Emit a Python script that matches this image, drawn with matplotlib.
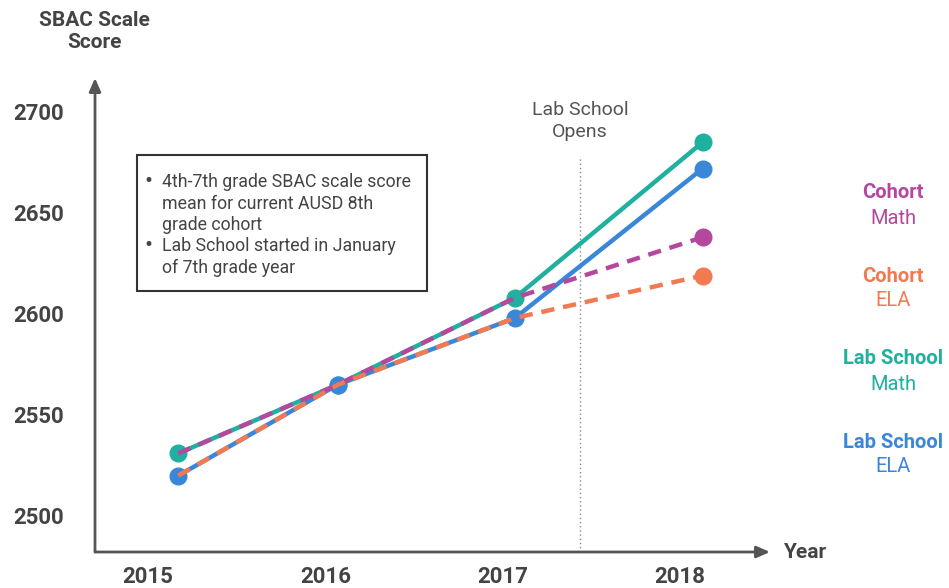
import matplotlib
matplotlib.use("Agg")
import matplotlib.pyplot as plt
from matplotlib.patches import FancyBboxPatch

plt.rcParams['font.family'] = ['Roboto', 'DejaVu Sans']

years = [2015, 2016, 2017, 2018]
year_labels = ['2015', '2016', '2017', '2018']
# horizontal placement of the measurements (in fractional year units, as drawn)
point_x = [2015.17, 2016.07, 2017.07, 2018.13]
lab_math = [2532, 2566, 2609, 2686]
lab_ela = [2521, 2566, 2599, 2673]
cohort_math = [2532, 2566, 2609, 2639]
cohort_ela = [2521, 2566, 2599, 2620]
y_ticks = [2500, 2550, 2600, 2650, 2700]
lab_open_x = 2017.44

C_TEAL = '#1fb0a0'
C_BLUE = '#3a87d9'
C_MAG = '#b5479f'
C_ORG = '#f27a52'
TXT = '#444444'

W, H = 949, 588
fig = plt.figure(figsize=(W / 100, H / 100), dpi=100)
left, right, top, bot = 95, 770, 78, 552
ax = fig.add_axes([left / W, 1 - bot / H, (right - left) / W, (bot - top) / H])
ax.set_xlim(2014.70, 2018.51)
ax.set_ylim(2483.2, 2717.8)
for s in ax.spines.values():
    s.set_visible(False)
ax.set_xticks([])
ax.set_yticks([])
ax.patch.set_alpha(0)

lw = 3.2
ms = 12
ax.plot(point_x, lab_math, color=C_TEAL, lw=lw, marker='o', ms=ms, solid_capstyle='round', zorder=3)
ax.plot(point_x, lab_ela, color=C_BLUE, lw=lw, marker='o', ms=ms, solid_capstyle='round', zorder=3)
ax.plot(point_x, cohort_math, color=C_MAG, lw=lw, ls=(0, (3, 2)), zorder=4)
ax.plot(point_x, cohort_ela, color=C_ORG, lw=lw, ls=(0, (3, 2)), zorder=4)
ax.plot(point_x[-1:], cohort_math[-1:], color=C_MAG, marker='o', ms=ms, zorder=5)
ax.plot(point_x[-1:], cohort_ela[-1:], color=C_ORG, marker='o', ms=ms, zorder=5)

# Lab School opens line
ax.plot([lab_open_x, lab_open_x], [2483.2, 2679], color='#888888', lw=1, ls=(0, (1, 2)), zorder=1)
fig.text(580 / W, 1 - 121 / H, 'Lab School\nOpens', ha='center', va='center', fontsize=14,
         color='#555555', linespacing=1.25)

# axis arrows
ax.annotate('', xy=(0, 1), xytext=(0, 0), xycoords='axes fraction',
            arrowprops=dict(arrowstyle='-|>,head_length=0.8,head_width=0.35', color='#555555', lw=2,
                            shrinkA=0, shrinkB=0))
ax.annotate('', xy=(1, 0), xytext=(0, 0), xycoords='axes fraction',
            arrowprops=dict(arrowstyle='-|>,head_length=0.8,head_width=0.35', color='#555555', lw=2,
                            shrinkA=0, shrinkB=0))

# tick labels
for v in y_ticks:
    ax.text(2014.38, v, str(v), ha='center', va='center', fontsize=16, fontweight='bold', color=TXT,
            clip_on=False)
for yr, lab in zip(years, year_labels):
    ax.text(yr, 2470.8, lab, ha='center', va='center', fontsize=16, fontweight='bold', color=TXT,
            clip_on=False)

fig.text(94 / W, 1 - 31 / H, 'SBAC Scale\nScore', ha='center', va='center', fontsize=15,
         fontweight='bold', color=TXT, linespacing=1.2)
fig.text(783 / W, 1 - 553 / H, 'Year', ha='left', va='center', fontsize=15, fontweight='bold', color=TXT)

# right-side legend labels
legend = [('Cohort', 'Math', C_MAG, 193), ('Cohort', 'ELA', C_ORG, 276),
          ('Lab School', 'Math', C_TEAL, 359), ('Lab School', 'ELA', C_BLUE, 442)]
for t1, t2, c, yp in legend:
    fig.text(893 / W, 1 - yp / H, t1, ha='center', va='center', fontsize=14.5, fontweight='bold', color=c)
    fig.text(893 / W, 1 - (yp + 25) / H, t2, ha='center', va='center', fontsize=14.5, color=c)

# note box
bx0, by0, bx1, by1 = 137, 155, 427, 291
box = FancyBboxPatch((bx0 / W, 1 - by1 / H), (bx1 - bx0) / W, (by1 - by0) / H,
                     boxstyle='square,pad=0', transform=fig.transFigure, facecolor='white',
                     edgecolor='#333333', lw=1.5, zorder=6)
fig.add_artist(box)
lines = [('•', '4th-7th grade SBAC scale score', 182), (None, 'mean for current AUSD 8th', 204),
         (None, 'grade cohort', 225), ('•', 'Lab School started in January', 246),
         (None, 'of 7th grade year', 268)]
for b, t, yp in lines:
    if b:
        fig.text(144 / W, 1 - yp / H, b, ha='left', va='center', fontsize=17, color=TXT, zorder=7)
    fig.text(162 / W, 1 - yp / H, t, ha='left', va='center', fontsize=12.8, color=TXT, zorder=7)

fig.savefig('out.png', dpi=100, facecolor='white')
